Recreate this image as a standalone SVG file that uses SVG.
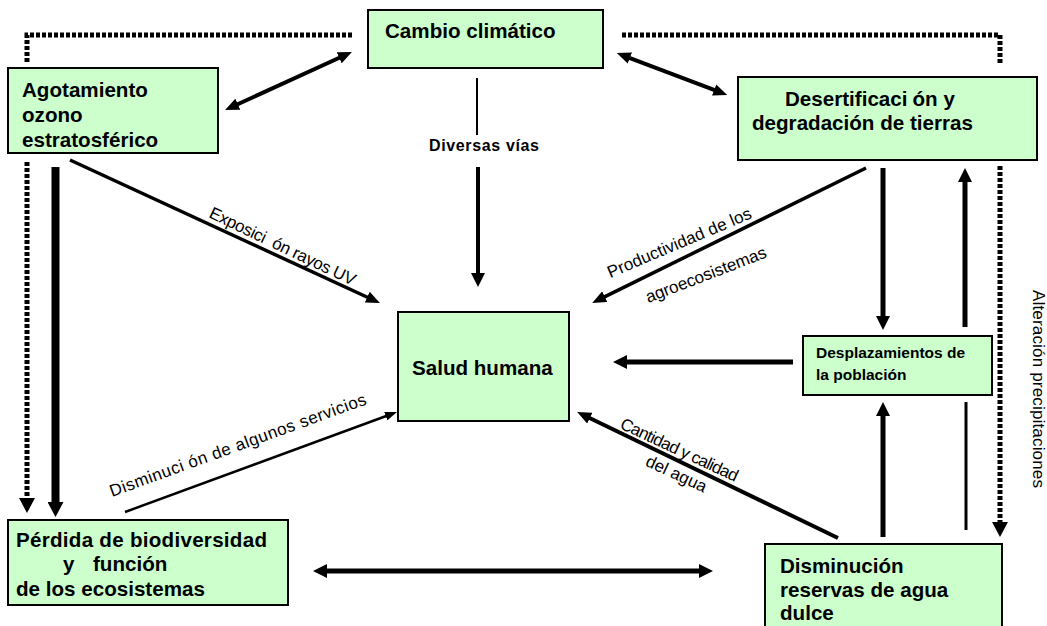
<svg xmlns="http://www.w3.org/2000/svg" width="1047" height="626" viewBox="0 0 1047 626">
<style>
.node rect{fill:#CCFFCC;stroke:#000;stroke-width:2}
.nt{font-family:"Liberation Sans",Arial,sans-serif;font-weight:bold;font-size:20.6px;fill:#000}
.ns{font-family:"Liberation Sans",Arial,sans-serif;font-weight:bold;font-size:15.5px;fill:#000}
.lb{font-family:"Liberation Sans",Arial,sans-serif;font-size:17px;fill:#000}
.lbb{font-family:"Liberation Sans",Arial,sans-serif;font-weight:bold;font-size:16px;fill:#000}
.ln{stroke:#000;fill:none}
.dot{stroke:#000;fill:none;stroke-width:5;stroke-dasharray:4 2}
</style>
<defs>
<marker id="hA" markerUnits="userSpaceOnUse" markerWidth="14" markerHeight="12" refX="2" refY="6" orient="auto-start-reverse"><path d="M0,0 L14,6 L0,12 z" fill="#000"/></marker>
<marker id="hB" markerUnits="userSpaceOnUse" markerWidth="14" markerHeight="14" refX="2" refY="7" orient="auto-start-reverse"><path d="M0,0 L14,7 L0,14 z" fill="#000"/></marker>
<marker id="hC" markerUnits="userSpaceOnUse" markerWidth="15" markerHeight="16" refX="2" refY="8" orient="auto-start-reverse"><path d="M0,0 L15,8 L0,16 z" fill="#000"/></marker>
<marker id="hS" markerUnits="userSpaceOnUse" markerWidth="12" markerHeight="9" refX="2" refY="4.5" orient="auto-start-reverse"><path d="M0,0 L12,4.5 L0,9 z" fill="#000"/></marker>
</defs>

<g id="connectors">
<path class="dot" d="M352,35 H27 V62"/>
<path class="dot" d="M27,162 V500" marker-end="url(#hC)"/>
<path class="dot" d="M622,35 H1000 V64"/>
<path class="dot" d="M1000,166 V524" marker-end="url(#hC)"/>
<line class="ln" stroke-width="4" x1="236" y1="105" x2="341" y2="57" marker-start="url(#hA)" marker-end="url(#hA)"/>
<line class="ln" stroke-width="4" x1="628" y1="57.3" x2="716" y2="90.7" marker-start="url(#hA)" marker-end="url(#hA)"/>
<line class="ln" stroke-width="2" x1="477" y1="78" x2="477" y2="135"/>
<line class="ln" stroke-width="4" x1="478" y1="167" x2="478" y2="275" marker-end="url(#hB)"/>
<line class="ln" stroke-width="3.5" x1="70" y1="160" x2="369" y2="298" marker-end="url(#hA)"/>
<line class="ln" stroke-width="8" x1="55.5" y1="167" x2="55.5" y2="504" marker-end="url(#hC)"/>
<line class="ln" stroke-width="2.5" x1="125" y1="512" x2="387.6" y2="415.5" marker-end="url(#hS)"/>
<line class="ln" stroke-width="5" x1="325" y1="571" x2="701" y2="571" marker-start="url(#hB)" marker-end="url(#hB)"/>
<line class="ln" stroke-width="4" x1="838" y1="538" x2="588" y2="417.3" marker-end="url(#hA)"/>
<line class="ln" stroke-width="3.5" x1="866" y1="168" x2="603" y2="297.6" marker-end="url(#hA)"/>
<line class="ln" stroke-width="5" x1="883" y1="168" x2="883" y2="318" marker-end="url(#hB)"/>
<line class="ln" stroke-width="5" x1="965" y1="327" x2="965" y2="180" marker-end="url(#hB)"/>
<line class="ln" stroke-width="5" x1="793" y1="362" x2="625" y2="362" marker-end="url(#hB)"/>
<line class="ln" stroke-width="5" x1="883" y1="537" x2="883" y2="414" marker-end="url(#hB)"/>
<line class="ln" stroke-width="3" x1="966" y1="402" x2="966" y2="530"/>
<text class="lbb" x="429" y="151" textLength="110">Diversas vías</text>
<text class="lb" xml:space="preserve" x="208" y="217" textLength="160" transform="rotate(25.5 208 217)">Exposici  ón rayos UV</text>
<text class="lb" x="112" y="497" textLength="272" transform="rotate(-20 112 497)">Disminuci ón de algunos servicios</text>
<text class="lb" x="681.5" y="248" text-anchor="middle" textLength="155" transform="rotate(-23 681.5 248)">Productividad de los</text>
<text class="lb" x="708" y="280" text-anchor="middle" textLength="128" transform="rotate(-21 708 280)">agroecosistemas</text>
<text class="lb" x="677" y="455" text-anchor="middle" textLength="128" font-size="16" transform="rotate(25 677 455)">Cantidad y calidad</text>
<text class="lb" x="674" y="479" text-anchor="middle" font-size="16" transform="rotate(25 674 479)">del agua</text>
<text class="lb" x="1033" y="290" font-size="16" textLength="198" transform="rotate(90 1033 290)">Alteración precipitaciones</text>
</g>

<g id="cambio" class="node">
<rect x="368" y="10" width="235" height="58"/>
<text class="nt" x="385" y="38">Cambio climático</text>
</g>
<g id="agotamiento" class="node">
<rect x="8" y="68" width="210" height="85"/>
<text class="nt" x="22" y="97">Agotamiento</text>
<text class="nt" x="22" y="122">ozono</text>
<text class="nt" x="22" y="147">estratosférico</text>
</g>
<g id="desertificacion" class="node">
<rect x="738" y="77" width="299" height="83"/>
<text class="nt" x="785" y="106">Desertificaci<tspan dx="5">ón y</tspan></text>
<text class="nt" x="752" y="130">degradación de tierras</text>
</g>
<g id="salud" class="node">
<rect x="398" y="312" width="171" height="109"/>
<text class="nt" x="412" y="375">Salud humana</text>
</g>
<g id="desplazamientos" class="node">
<rect x="803" y="336" width="189" height="59"/>
<text class="ns" x="816" y="358">Desplazamientos de</text>
<text class="ns" x="816" y="380">la población</text>
</g>
<g id="perdida" class="node">
<rect x="8" y="520" width="280" height="85"/>
<text class="nt" x="16" y="547" textLength="251">Pérdida de biodiversidad</text>
<text class="nt" y="571"><tspan x="63">y</tspan><tspan x="93">función</tspan></text>
<text class="nt" x="16" y="596">de los ecosistemas</text>
</g>
<g id="reservas" class="node">
<rect x="765" y="544" width="237" height="100"/>
<text class="nt" x="780" y="573">Disminución</text>
<text class="nt" x="780" y="597">reservas de agua</text>
<text class="nt" x="780" y="620">dulce</text>
</g>
</svg>
